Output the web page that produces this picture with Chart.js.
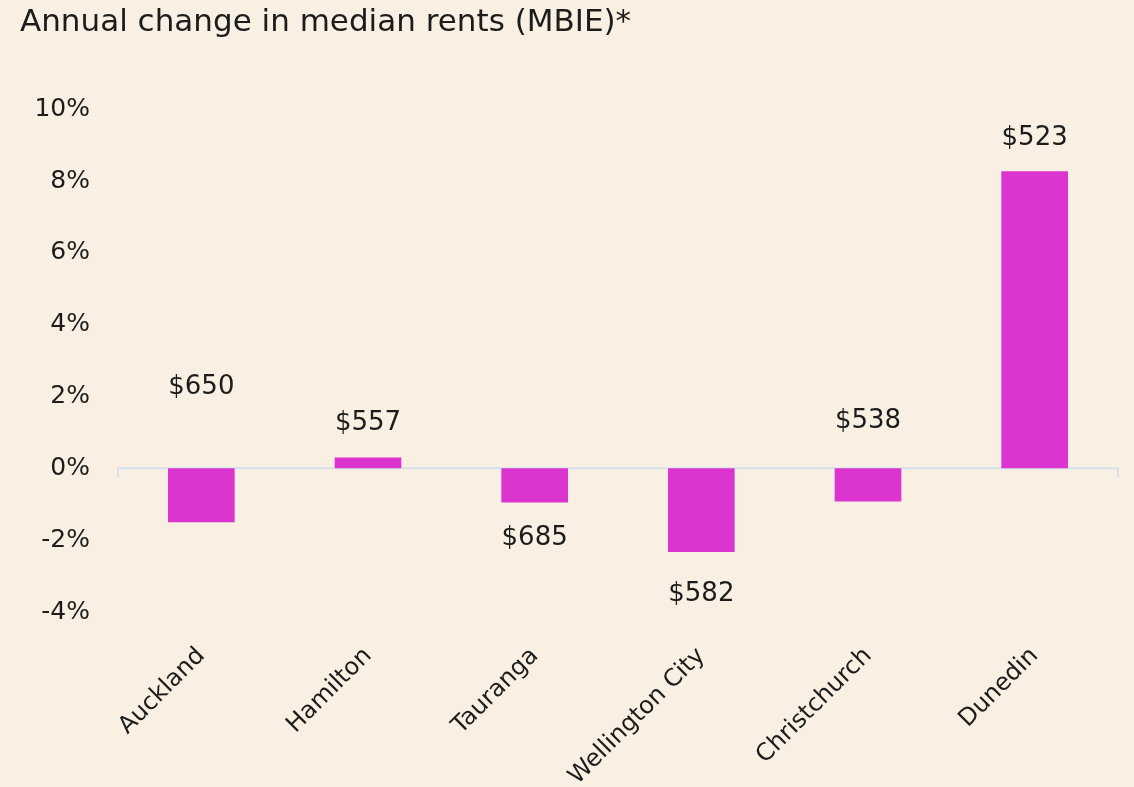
<!DOCTYPE html>
<html>
<head>
<meta charset="utf-8">
<script src="https://cdn.jsdelivr.net/npm/chart.js@4"></script>
<style>
  html, body { margin: 0; padding: 0; background: #f9f0e3; }
  #wrap { width: 1134px; height: 787px; }
</style>
</head>
<body>
<div id="wrap"><canvas id="rentChart"></canvas></div>
<script>
// Annual change in median rents by city
const cities = ["Auckland", "Hamilton", "Tauranga", "Wellington City", "Christchurch", "Dunedin"];
const changePct = [-1.5, 0.3, -0.95, -2.33, -0.92, 8.27];
const medianRents = ["$650", "$557", "$685", "$582", "$538", "$523"];
// where each rent label sits in % units
const labelLevels = [2.27, 1.25, -1.96, -3.5, 1.32, 9.19];
const yTicks = [-4, -2, 0, 2, 4, 6, 8, 10];

const FONT = "'DejaVu Sans', sans-serif";
const INK = "#1c1c1c";

// zero line with little end ticks
const baseline = {
  id: "baseline",
  beforeDatasetsDraw(chart) {
    const { ctx, chartArea, scales } = chart;
    const y = scales.y.getPixelForValue(0);
    ctx.save();
    ctx.strokeStyle = "#d3e2ea";
    ctx.lineWidth = 2;
    ctx.beginPath();
    ctx.moveTo(chartArea.left, y + 9);
    ctx.lineTo(chartArea.left, y);
    ctx.lineTo(chartArea.right, y);
    ctx.lineTo(chartArea.right, y + 9);
    ctx.stroke();
    ctx.restore();
  }
};

// rent labels
const rentLabels = {
  id: "rentLabels",
  afterDatasetsDraw(chart) {
    const { ctx, scales } = chart;
    const bars = chart.getDatasetMeta(0).data;
    ctx.save();
    ctx.font = "26px " + FONT;
    ctx.fillStyle = INK;
    ctx.textAlign = "center";
    ctx.textBaseline = "middle";
    bars.forEach((bar, i) => {
      ctx.fillText(medianRents[i], bar.x, scales.y.getPixelForValue(labelLevels[i]));
    });
    ctx.restore();
  }
};

new Chart(document.getElementById("rentChart"), {
  type: "bar",
  data: {
    labels: cities,
    datasets: [{
      data: changePct,
      backgroundColor: "#db34cf",
      borderWidth: 0,
      categoryPercentage: 1,
      barPercentage: 0.4
    }]
  },
  options: {
    responsive: true,
    maintainAspectRatio: false,
    animation: false,
    layout: { padding: { left: 20, right: 16, top: 0, bottom: 0 } },
    plugins: {
      legend: { display: false },
      tooltip: { enabled: false },
      title: {
        display: true,
        text: "Annual change in median rents (MBIE)*",
        align: "start",
        color: INK,
        font: { family: FONT, size: 31, weight: "normal" },
        padding: { top: 4, bottom: 68 }
      }
    },
    scales: {
      x: {
        grid: { display: false, drawTicks: false },
        border: { display: false },
        ticks: {
          color: INK,
          font: { family: FONT, size: 24 },
          autoSkip: false,
          minRotation: 45,
          maxRotation: 45,
          padding: 30
        },
        afterFit(scale) { scale.height = 175; }
      },
      y: {
        min: -4,
        max: 10,
        grid: { display: false, drawTicks: false },
        border: { display: false },
        afterBuildTicks(scale) { scale.ticks = yTicks.map(v => ({ value: v })); },
        ticks: {
          color: INK,
          font: { family: FONT, size: 25 },
          padding: 28,
          callback: v => v + "%"
        },
        afterFit(scale) { scale.width = 98; }
      }
    }
  },
  plugins: [baseline, rentLabels]
});
</script>
</body>
</html>
